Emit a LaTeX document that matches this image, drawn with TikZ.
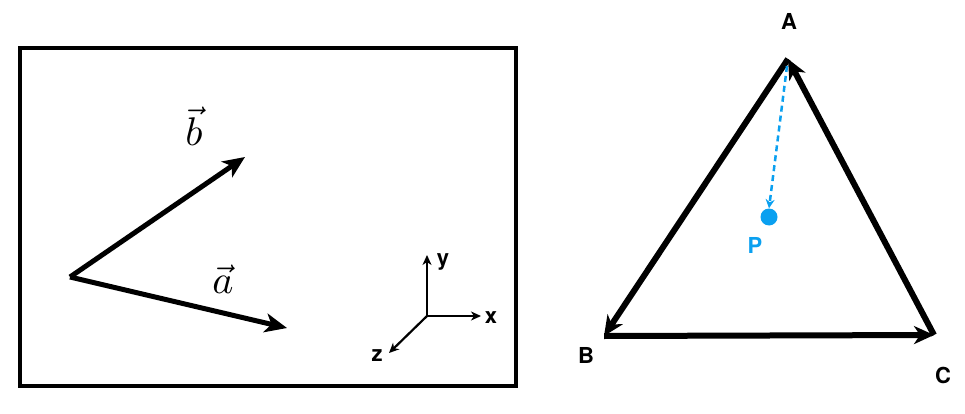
\documentclass[tikz,border=0pt]{standalone}
\usepackage{fontspec}
\newfontfamily\labelfont{TeX Gyre Heros}
\usepackage{graphicx}
\usepackage{xcolor}
\usetikzlibrary{arrows.meta}
\definecolor{pblue}{RGB}{10,160,240}
\newcommand{\biglabel}[1]{\scalebox{4}{$#1$}}

\begin{document}
\begin{tikzpicture}[
        x=1pt, y=-1pt,
        vec/.style={-{Stealth[length=22pt, width=19pt, inset=6pt]}, line width=5pt, draw=black},
        axis/.style={-{Stealth[length=10pt, width=9pt, inset=3pt]}, line width=2.2pt, draw=black},
        side/.style={-{Stealth[length=20pt, width=18pt, inset=6pt]}, line width=6pt, draw=black},
        plabel/.style={font=\labelfont\bfseries\fontsize{22}{26}\selectfont},
    ]
        \useasboundingbox (0,0) rectangle (965,414);

        % Frame with the two vectors
        \draw[line width=3.5pt] (20,48) rectangle (516,386);
        \coordinate (o) at (70,277);
        \coordinate (btip) at (245,157);
        \coordinate (atip) at (287,328);
        \draw[vec] (o) -- (btip);
        \draw[vec] (o) -- (atip);
        \node (blab) at (194,126) {\biglabel{\vec{b}}};
        \node (alab) at (223,279) {\biglabel{\vec{a}}};

        % Axes
        \coordinate (ax) at (427,316);
        \coordinate (xtip) at (481,316);
        \coordinate (ytip) at (427,255);
        \coordinate (ztip) at (389,353);
        \draw[axis] (ax) -- (xtip);
        \draw[axis] (ax) -- (ytip);
        \draw[axis] (ax) -- (ztip);
        \node[plabel] (xlab) at (491,318) {x};
        \node[plabel] (ylab) at (443,262) {y};
        \node[plabel] (zlab) at (377,356) {z};

        % Triangle
        \coordinate (A) at (788,59);
        \coordinate (B) at (604,336);
        \coordinate (C) at (934,335);
        \draw[side] (A) -- (B);
        \draw[side] (B) -- (C);
        \draw[side] (C) -- (A);
        \node[plabel] (alabel) at (789,21) {A};
        \node[plabel] (blabel) at (586,355) {B};
        \node[plabel] (clabel) at (943,375) {C};

        % Point P
        \node[circle, fill=pblue, inner sep=0pt, minimum size=17pt] (P) at (769,217) {};
        \node[plabel, text=pblue] (plab) at (755,245) {P};
        \draw[pblue, line width=2.5pt, dash pattern=on 6pt off 4pt, -{Stealth[length=9pt, width=9pt, inset=3pt]}] (787,66) -- (P.north);
    \end{tikzpicture}
\end{document}
